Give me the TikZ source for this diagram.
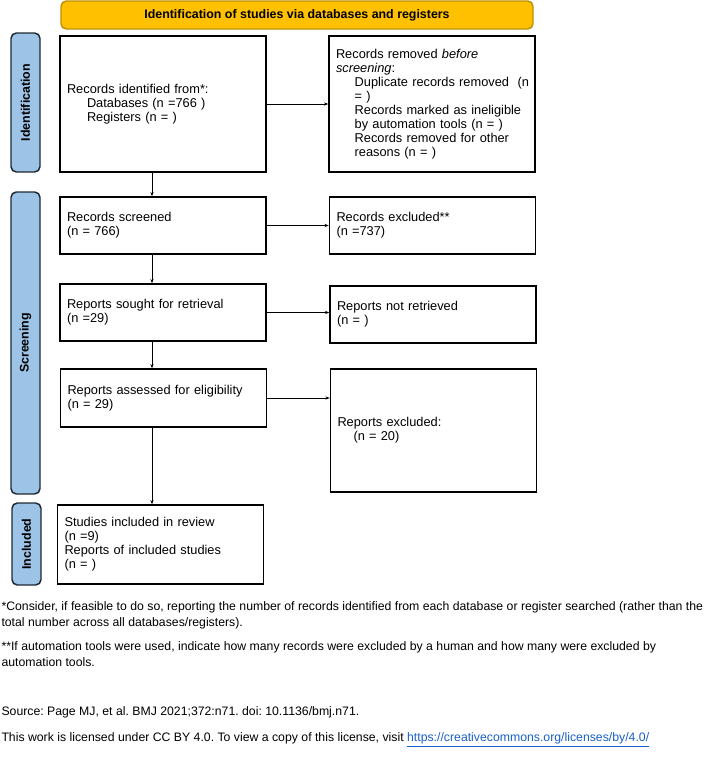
\documentclass[tikz,border=0pt]{standalone}
\usepackage{fontspec}
\setmainfont{Liberation Sans}
\usetikzlibrary{arrows.meta}

\definecolor{bannerfill}{HTML}{FFC000}
\definecolor{bannerdraw}{HTML}{BF9000}
\definecolor{phasefill}{HTML}{9DC3E6}
\definecolor{phasedraw}{HTML}{1F2933}
\definecolor{linkblue}{HTML}{1A5FC8}

\tikzset{every picture/.style={line width=0.75pt}}
\frenchspacing
\hyphenpenalty=10000

\begin{document}
\begin{tikzpicture}[x=0.75pt,y=0.75pt,yscale=-1,
	box/.style={draw, line width=1.1pt, rectangle, minimum width=154.5pt, text width=144pt, inner xsep=5.25pt, align=left, font=\fontsize{9.6pt}{10.5pt}\selectfont},
	phase/.style={draw=phasedraw, fill=phasefill, line width=1.1pt, rounded corners=4pt, rotate=90, minimum height=21.75pt, inner sep=0pt, font=\bfseries\fontsize{9.3pt}{11pt}\selectfont},
	arr/.style={-{Stealth[length=3.2pt,width=2.4pt]}, line width=0.75pt},
	note/.style={anchor=west, align=left, inner sep=0pt, font=\fontsize{9.2pt}{12pt}\selectfont}]
	\useasboundingbox (0,0) rectangle (708,775);
	
	%Banner
	\node [draw=bannerdraw, fill=bannerfill, line width=1.1pt, rounded corners=4pt, minimum width=354pt, minimum height=21pt, font=\bfseries\fontsize{9.3pt}{11pt}\selectfont] (banner) at (297,15) {Identification of studies via databases and registers};
	
	%Phases
	\node [phase, minimum width=104.25pt] (phaseid) at (25.5,102.5) {Identification};
	\node [phase, minimum width=226.5pt] (phasescr) at (25.5,343) {Screening};
	\node [phase, minimum width=61.5pt] (phaseinc) at (26.5,544) {Included};
	
	%Left column
	\node [box, minimum height=102pt] (ident) at (163,104) {Records identified from*:\\
		\hspace*{15pt}Databases (n =766 )\\
		\hspace*{15pt}Registers (n = )};
	\node [box, minimum height=42.75pt] (screened) at (163,225.5) {Records screened\\(n = 766)};
	\node [box, minimum height=42.75pt] (sought) at (163,312.5) {Reports sought for retrieval\\(n =29)};
	\node [box, minimum height=43.5pt] (assessed) at (163.5,398) {Reports assessed for eligibility\\(n = 29)};
	\node [box, minimum height=59.25pt] (included) at (160.5,544.5) {Studies included in review\\(n =9)\\Reports of included studies\\(n = )};
	
	%Right column
	\node [box, minimum height=102pt] (removed) at (432,104) {Records removed \textit{before}\\
		\textit{screening}:\\
		\hspace*{14pt}\mbox{Duplicate records removed~ (n}\\
		\hspace*{14pt}= )\\
		\hspace*{14pt}Records marked as ineligible\\
		\hspace*{14pt}by automation tools (n = )\\
		\hspace*{14pt}Records removed for other\\
		\hspace*{14pt}reasons (n = )};
	\node [box, minimum height=42.75pt] (excluded) at (432.5,225.5) {Records excluded**\\(n =737)};
	\node [box, minimum height=42.75pt] (notretr) at (433,314.5) {Reports not retrieved\\(n = )};
	\node [box, minimum height=92.25pt] (rexcl) at (433.5,430.5) {Reports excluded:\\\hspace*{12pt}(n = 20)};
	
	%Arrows
	\coordinate (spine) at (152,0);
	\draw [arr] (ident.south -| spine) -- (screened.north -| spine);
	\draw [arr] (screened.south -| spine) -- (sought.north -| spine);
	\draw [arr] (sought.south -| spine) -- (assessed.north -| spine);
	\draw [arr] (assessed.south -| spine) -- (included.north -| spine);
	\draw [arr] (ident.east) -- (ident.east -| removed.west);
	\draw [arr] (screened.east) -- (screened.east -| excluded.west);
	\draw [arr] (sought.east) -- (sought.east -| notretr.west);
	\draw [arr] (assessed.east) -- (assessed.east -| rexcl.west);
	
	%Notes
	\node [note] (noteone) at (1,615) {*Consider, if feasible to do so, reporting the number of records identified from each database or register searched (rather than the\\total number across all databases/registers).};
	\node [note] (notetwo) at (1,654) {**If automation tools were used, indicate how many records were excluded by a human and how many were excluded by\\automation tools.};
	\node [note] (source) at (1,712) {Source: Page MJ, et al. BMJ 2021;372:n71. doi: 10.1136/bmj.n71.};
	\node [note] (licence) at (1,740) {This work is licensed under CC BY 4.0. To view a copy of this license, visit \textcolor{linkblue}{\underline{https://creativecommons.org/licenses/by/4.0/}}};
\end{tikzpicture}
\end{document}
